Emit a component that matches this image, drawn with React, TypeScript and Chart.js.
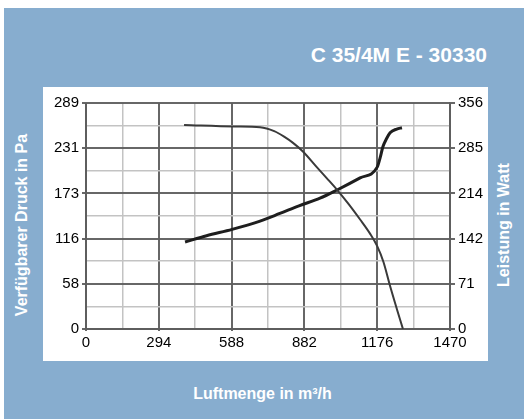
import React, { useEffect, useRef } from "react";
import { Chart, registerables } from "chart.js";

Chart.register(...registerables);

const chartTitle = "C 35/4M E - 30330";
const xTitle = "Luftmenge in m³/h";
const yLeftTitle = "Verfügbarer Druck in Pa";
const yRightTitle = "Leistung in Watt";

const xTickLabels = [0, 294, 588, 882, 1176, 1470];
const leftTickLabels = [0, 58, 116, 173, 231, 289];
const rightTickLabels = [0, 71, 142, 214, 285, 356];

const xMax = 1470;
const leftMax = 289;
const rightMax = 356;

// Verfügbarer Druck (Pa) vs Luftmenge (m³/h)
const pressureFlow = [396, 600, 703, 760, 800, 836, 876, 932, 972, 1014, 1060, 1107, 1147, 1176, 1201, 1228, 1255, 1280];
const pressureValues = [261, 259, 258, 253, 246, 238, 227, 207, 193, 178, 160, 140, 122, 106, 86, 55, 26, 0];

// Leistung (W) vs Luftmenge (m³/h)
const powerFlow = [400, 487, 590, 703, 783, 860, 945, 1014, 1107, 1176, 1188, 1199, 1214, 1228, 1255, 1276];
const powerValues = [137, 147, 157, 170, 182, 194, 206, 219, 238, 255, 270, 287, 300, 309, 315, 317];

const FONT = '"Liberation Sans", Arial, Helvetica, sans-serif';
const MAJOR = "rgba(95,95,95,0.95)";
const MINOR = "rgba(195,195,195,1)";
const BLUE = "#87adcf";

function makeTicks(max: number) {
  const arr: { value: number }[] = [];
  for (let i = 0; i <= 10; i++) arr.push({ value: (max * i) / 10 });
  return arr;
}

export default function App() {
  const ref = useRef<HTMLCanvasElement | null>(null);

  useEffect(() => {
    if (!ref.current) return;
    const chart = new Chart(ref.current, {
      type: "line",
      data: {
        datasets: [
          {
            label: "Druck",
            data: pressureFlow.map((x, i) => ({ x, y: pressureValues[i] })),
            yAxisID: "yL",
            borderColor: "#3a3a3a",
            borderWidth: 2,
            pointRadius: 0,
            cubicInterpolationMode: "monotone",
            fill: false,
          },
          {
            label: "Leistung",
            data: powerFlow.map((x, i) => ({ x, y: powerValues[i] })),
            yAxisID: "yR",
            borderColor: "#1e1e1e",
            borderWidth: 3,
            pointRadius: 0,
            cubicInterpolationMode: "monotone",
            fill: false,
          },
        ],
      },
      options: {
        responsive: false,
        animation: false,
        devicePixelRatio: 1,
        layout: { padding: { left: 0, right: 0, top: 103, bottom: 0 } },
        plugins: { legend: { display: false }, tooltip: { enabled: false }, title: { display: false } },
        scales: {
          x: {
            type: "linear",
            min: 0,
            max: xMax,
            afterBuildTicks: (s: any) => { s.ticks = makeTicks(xMax); },
            afterFit: (s: any) => { s.height = 90; },
            ticks: {
              autoSkip: false,
              maxRotation: 0,
              padding: 3,
              color: "#000",
              font: { family: FONT, size: 15 },
              callback: (_v: any, i: number) => (i % 2 === 0 ? String(xTickLabels[i / 2]) : ""),
            },
            grid: {
              color: (c: any) => (c.index % 2 === 0 ? MAJOR : MINOR),
              lineWidth: (c: any) => (c.index % 2 === 0 ? 2 : 1.5),
              tickLength: 2,
              tickColor: (c: any) => (c.index % 2 === 0 ? MAJOR : "rgba(0,0,0,0)"),
            },
            border: { display: true, color: MAJOR, width: 2 },
          },
          yL: {
            type: "linear",
            position: "left",
            min: 0,
            max: leftMax,
            afterBuildTicks: (s: any) => { s.ticks = makeTicks(leftMax); },
            afterFit: (s: any) => { s.width = 86; },
            ticks: {
              autoSkip: false,
              padding: 3,
              color: "#000",
              font: { family: FONT, size: 15 },
              callback: (_v: any, i: number) => (i % 2 === 0 ? String(leftTickLabels[i / 2]) : ""),
            },
            grid: {
              color: (c: any) => (c.index % 2 === 0 ? MAJOR : MINOR),
              lineWidth: (c: any) => (c.index % 2 === 0 ? 2 : 1.5),
              tickLength: 4,
              tickColor: (c: any) => (c.index % 2 === 0 ? MAJOR : "rgba(0,0,0,0)"),
            },
            border: { display: true, color: MAJOR, width: 2 },
          },
          yR: {
            type: "linear",
            position: "right",
            min: 0,
            max: rightMax,
            afterBuildTicks: (s: any) => { s.ticks = makeTicks(rightMax); },
            afterFit: (s: any) => { s.width = 74; },
            ticks: {
              autoSkip: false,
              padding: 3,
              color: "#000",
              font: { family: FONT, size: 15 },
              callback: (_v: any, i: number) => (i % 2 === 0 ? String(rightTickLabels[i / 2]) : ""),
            },
            grid: {
              drawOnChartArea: false,
              tickLength: 5,
              lineWidth: 2,
              tickColor: (c: any) => (c.index % 2 === 0 ? MAJOR : "rgba(0,0,0,0)"),
            },
            border: { display: true, color: MAJOR, width: 2 },
          },
        },
      },
    } as any);
    return () => chart.destroy();
  }, []);

  const textBase: React.CSSProperties = {
    position: "absolute",
    color: "#fff",
    fontFamily: FONT,
    fontWeight: "bold",
    whiteSpace: "nowrap",
    lineHeight: 1,
  };

  return (
    <div style={{ position: "absolute", left: 0, top: 0, width: 524, height: 419, overflow: "hidden", background: "#fff" }}>
      <div style={{ position: "absolute", left: 4, top: 8, width: 520, height: 411, background: BLUE }} />
      <div style={{ position: "absolute", left: 43, top: 87, width: 445, height: 274, background: "#fff" }} />
      <div style={{ ...textBase, fontSize: 21, right: 524 - 487, top: 53.5, transform: "translateY(-50%)" }}>{chartTitle}</div>
      <div style={{ ...textBase, fontSize: 16, left: 262.5, top: 394, transform: "translate(-50%,-50%)" }}>{xTitle}</div>
      <div style={{ ...textBase, fontSize: 16, left: 22, top: 225, transform: "translate(-50%,-50%) rotate(-90deg)" }}>{yLeftTitle}</div>
      <div style={{ ...textBase, fontSize: 16, left: 503.5, top: 225, transform: "translate(-50%,-50%) rotate(-90deg)" }}>{yRightTitle}</div>
      <canvas ref={ref} width={524} height={419} style={{ position: "absolute", left: 0, top: 0, width: 524, height: 419 }} />
    </div>
  );
}
